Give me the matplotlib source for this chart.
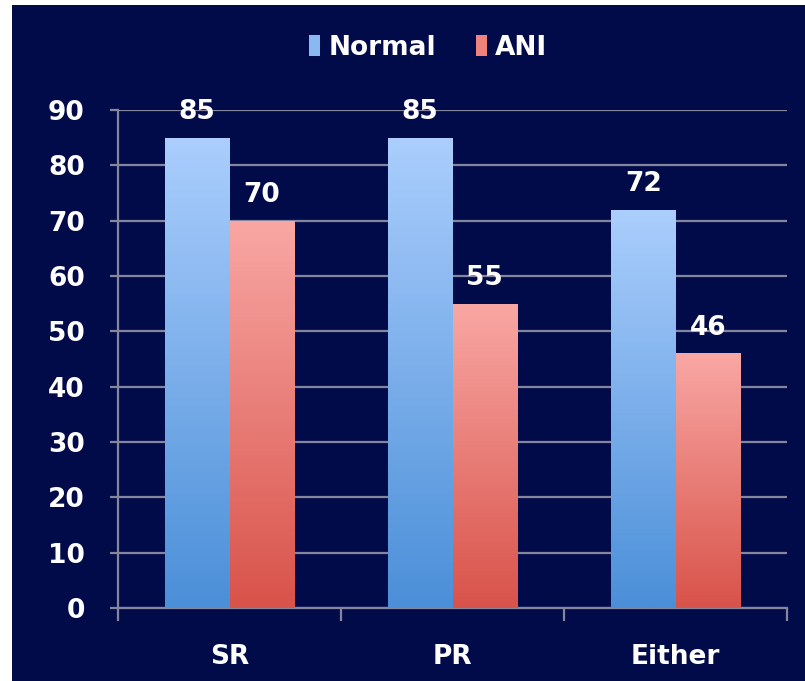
import numpy as np
import matplotlib.pyplot as plt
from matplotlib.colors import LinearSegmentedColormap
from matplotlib.patches import Rectangle

categorias = ["SR", "PR", "Either"]
normal = [85, 85, 72]
ani = [70, 55, 46]
yticks = [0, 10, 20, 30, 40, 50, 60, 70, 80, 90]

FONDO = "#020b4a"
GRIS = "#85859d"
FUENTE = "DejaVu Sans"


def degradado(ax, barras, arriba, abajo):
    cmap = LinearSegmentedColormap.from_list("g", [abajo, arriba])
    grad = np.linspace(0, 1, 256).reshape(-1, 1)
    for b in barras:
        x0, y0 = b.get_x(), b.get_y()
        w, h = b.get_width(), b.get_height()
        im = ax.imshow(grad, cmap=cmap, origin="lower", aspect="auto",
                       extent=[x0, x0 + w, y0, y0 + h], zorder=3)
        im.set_clip_path(b)
        b.set_facecolor("none")


fig = plt.figure(figsize=(8.05, 6.81), dpi=100)
fig.patch.set_facecolor("white")
fig.patches.append(Rectangle((12 / 805, 0), 1, 676 / 681, transform=fig.transFigure,
                             facecolor=FONDO, edgecolor="none", zorder=-10))

ax = fig.add_axes([118 / 805, 73 / 681, 669 / 805, 498 / 681])
ax.set_facecolor("none")

x = np.arange(len(categorias))
ancho = 0.29
b1 = ax.bar(x - ancho / 2, normal, ancho, color="#8ab8f0", label="Normal", zorder=3)
b2 = ax.bar(x + ancho / 2, ani, ancho, color="#ef837c", label="ANI", zorder=3)
degradado(ax, b1, "#abcefd", "#4b8fd8")
degradado(ax, b2, "#f9a7a4", "#d8534a")

for barras, vals in [(b1, normal), (b2, ani)]:
    for b, v in zip(barras, vals):
        ax.annotate(str(v), (b.get_x() + b.get_width() / 2, v), xytext=(0, 9),
                    textcoords="offset points", ha="center", va="bottom",
                    color="white", fontsize=19, fontweight="bold", family=FUENTE)

ax.set_xlim(-0.5, 2.5)
ax.set_ylim(0, 90)
ax.set_yticks(yticks)
ax.set_yticklabels([str(t) for t in yticks])
ax.set_xticks([-0.5, 0.5, 1.5, 2.5], minor=False)
ax.set_xticklabels([])
ax.set_xticks(x, minor=True)
ax.set_xticklabels(categorias, minor=True)

ax.grid(axis="y", color=GRIS, linewidth=1.6, zorder=1)
for lado in ["top", "right"]:
    ax.spines[lado].set_visible(False)
for lado in ["left", "bottom"]:
    ax.spines[lado].set_color(GRIS)
    ax.spines[lado].set_linewidth(1.6)

ax.tick_params(axis="y", colors=GRIS, length=6, width=1.6, pad=18,
               labelcolor="white", labelsize=19)
ax.tick_params(axis="x", which="major", colors=GRIS, length=9, width=1.6)
ax.tick_params(axis="x", which="minor", length=0, pad=26,
               labelcolor="white", labelsize=19)
for t in ax.get_yticklabels() + ax.get_xticklabels(minor=True):
    t.set_fontweight("bold")
    t.set_family(FUENTE)

leg = fig.legend(handles=[b1, b2], labels=["Normal", "ANI"], loc="center",
                 bbox_to_anchor=(428 / 805, 1 - 48 / 681), ncol=2, frameon=False,
                 handlelength=0.45, handleheight=0.85, handletextpad=0.3,
                 columnspacing=1.5,
                 prop={"family": FUENTE, "weight": "bold", "size": 19})
for t in leg.get_texts():
    t.set_color("white")
for h, c in zip(leg.legend_handles, ["#8ab8f0", "#ef837c"]):
    h.set_facecolor(c)

fig.savefig("out.png", dpi=100, facecolor=fig.get_facecolor())
